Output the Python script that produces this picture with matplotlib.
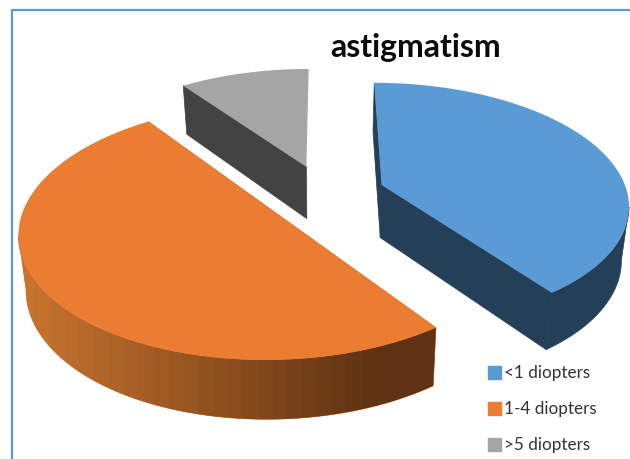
"""
Exploded 3D style pie chart: astigmatism
"""
import numpy as np
import matplotlib
matplotlib.use('Agg')
import matplotlib.pyplot as plt
from matplotlib.colors import to_rgb
from matplotlib.patches import Patch

title = 'astigmatism'
labels = ['<1 diopters', '1-4 diopters', '>5 diopters']
values = [40, 50, 10]
top_colors = ['#5b9bd5', '#ea7d31', '#a5a5a5']
wall_colors = ['#243f58', '#c8742f', '#434343']
wall_dark = '#5e3212'  # right end of the orange wall gradient

# projection settings, in pixels of the 630x459 picture
cx, cy = 324.5, 194
rx, ry = 246, 120
perspective = 0.15
explode = 0.247
depth = 53
shrink = 0.975


def project(x, y):
    """
    Project points of the pie plane to the picture
    :return: top surface x, y and bottom surface x, y
    """
    w = 1 + perspective * y
    top_x = cx + rx * x / w
    top_y = cy - ry * y / w
    return top_x, top_y, cx + (top_x - cx) * shrink, top_y + depth / w ** 0.6


def slice_outline(start, stop):
    """
    Outline of one exploded slice, angles in degrees clockwise from 12 o'clock
    """
    mid = np.radians((start + stop) / 2)
    ox, oy = explode * np.sin(mid), explode * np.cos(mid)
    ang = np.radians(np.linspace(start, stop, int(stop - start) * 2 + 1))
    x = np.concatenate([[ox], ox + np.sin(ang), [ox]])
    y = np.concatenate([[oy], oy + np.cos(ang), [oy]])
    return project(x, y)


fig = plt.figure(figsize=(6.3, 4.59), dpi=100)
ax = fig.add_axes([0, 0, 1, 1])
ax.axis('off')

# chart border, only left and top are inside the picture
ax.plot([12, 12, 640], [470, 9.7, 9.7], color='#5b9bd5', lw=1.6)

angles = np.cumsum([0] + values) / sum(values) * 360
order = 2
for i in [2, 0, 1]:
    tx, ty, bx, by = slice_outline(angles[i], angles[i + 1])
    # radial walls
    ax.fill([tx[0], tx[1], bx[1], bx[0]], [ty[0], ty[1], by[1], by[0]],
            color=wall_colors[i], lw=0.5, zorder=order)
    if i != 2:
        ax.fill([tx[-1], tx[-2], bx[-2], bx[-1]], [ty[-1], ty[-2], by[-2], by[-1]],
                color=wall_colors[i], lw=0.5, zorder=order)
    # outer wall, only the part in front of the side extreme can be seen
    if i != 2:
        arc = tx[1:-1]
        part = slice(np.argmax(arc), None) if i == 0 else slice(None, np.argmin(arc) + 1)
        wall_x = np.concatenate([tx[1:-1][part], bx[1:-1][part][::-1]])
        wall_y = np.concatenate([ty[1:-1][part], by[1:-1][part][::-1]])
        wall = ax.fill(wall_x, wall_y, color=wall_colors[i], lw=0.5, zorder=order)[0]
        if i == 1:
            # orange wall darkens to the right, in visible bands
            ramp = np.minimum(np.linspace(0, 1.15, 28), 1)[None, :, None]
            left, right = np.array(to_rgb(wall_colors[1])), np.array(to_rgb(wall_dark))
            image = ax.imshow(left + (right - left) * ramp, extent=(20, 436, 440, 200), aspect='auto',
                              interpolation='nearest', zorder=order + 0.5)
            image.set_clip_path(wall)
    ax.fill(tx, ty, color=top_colors[i], lw=0, zorder=order + 1)
    order += 2

ax.set_xlim(0, 630)
ax.set_ylim(459, 0)

ax.text(416, 47, title, fontsize=23, fontweight='bold', family='Lato', color='#0a0a0a',
        ha='center', va='center')

handles = [Patch(color=c) for c in top_colors]
ax.legend(handles, labels, loc='upper left', bbox_to_anchor=(483 / 630, 1 - 360 / 459), frameon=False,
          prop={'family': 'Lato', 'size': 12.3}, labelcolor='#333333', handlelength=0.75, handleheight=0.8,
          handletextpad=0.2, labelspacing=1.17, borderpad=0.3, borderaxespad=0)

plt.savefig('out.png')
